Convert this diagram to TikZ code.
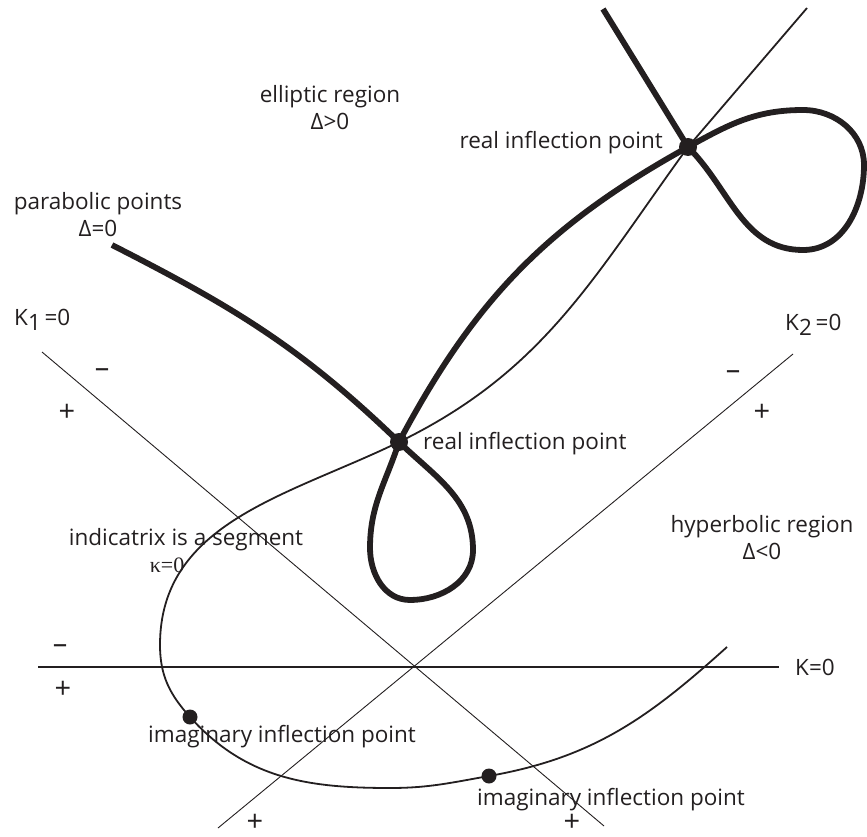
\documentclass[tikz,border=0pt]{standalone}
\usepackage{fontspec}
\setmainfont{Open Sans}
\newfontfamily\serifgreek{Liberation Serif}
\usepackage{tikz}
\usetikzlibrary{arrows.meta,positioning,calc}
\definecolor{ink}{RGB}{35,31,32}

\tikzset{
  lbl/.style={inner sep=0pt, text=ink, font=\fontsize{22.5}{27}\selectfont},
  signlbl/.style={inner sep=0pt, text=ink, font=\fontsize{29}{30}\selectfont},
  thickcurve/.style={ink, line width=5.8pt},
  thincurve/.style={ink, line width=1.8pt},
  axisline/.style={ink, line width=0.9pt},
  ptdot/.style={circle, fill=ink, inner sep=0pt, minimum size=#1}
}

\begin{document}
\begin{tikzpicture}[x=1pt, y=-1pt]
        \useasboundingbox (0,0) rectangle (867,837);
        % lines K=0, K_1=0, K_2=0
        \coordinate (origin) at (413,667);
        \coordinate (kzeroL) at (38,667);
        \coordinate (kzeroR) at (779,667);
        \coordinate (kone) at (42,352);
        \coordinate (koneEnd) at (604,826);
        \coordinate (ktwo) at (793,354);
        \coordinate (ktwoEnd) at (218,828);
        \draw[ink, line width=1.7pt] (kzeroL) -- (kzeroR);
        \draw[axisline] (kone) -- (koneEnd);
        \draw[axisline] (ktwo) -- (ktwoEnd);
        % inflection points
        \coordinate (upperpt) at (688,147);
        \coordinate (lowerpt) at (399,442);
        \coordinate (imagA) at (190,717);
        \coordinate (imagB) at (489,776);
        % thin curve
        \draw[thincurve] (807,8) -- (upperpt) to[out=234, in=26] (lowerpt)
            to[out=206, in=90] (160,645) to[out=-90, in=132] (imagA)
            to[out=-48, in=180] (390,788) to[out=0, in=190] (imagB)
            to[out=10, in=222] (727,647);
        % thick curve with the two loops
        \draw[thickcurve] (112,245) to[out=-27, in=136] (lowerpt)
            to[out=-44, in=90] (473,550) to[out=-90, in=0] (410,600)
            to[out=180, in=-90] (370,548) to[out=90, in=-108] (lowerpt)
            to[out=62, in=209] (upperpt)
            to[out=29, in=180] (803,110) to[out=0, in=90] (864,165)
            to[out=-90, in=0] (803,250) to[out=180, in=-45] (upperpt)
            -- (603,9);
        \foreach \p/\r in {upperpt/18pt, lowerpt/18pt, imagA/15pt, imagB/15pt} {
            \node[ptdot=\r] (dot-\p) at (\p) {};
        }
        % labels
        \node[lbl, align=center] (elliptic) at (330,108) {elliptic region\\Δ>0};
        \node[lbl, align=center] (parabolic) at (98,215) {parabolic points\\Δ=0};
        \node[lbl, anchor=east] (realA) at (663,143) {real inflection point};
        \node[lbl, anchor=west] (realB) at (423,444) {real inflection point};
        \node[lbl, anchor=west] (konelbl) at (14,320) {K\raisebox{-0.45ex}{1}\,=0};
        \node[lbl, anchor=west] (ktwolbl) at (785,325) {K\raisebox{-0.45ex}{2}\,=0};
        \node[lbl, anchor=west] (kzerolbl) at (795,667) {K=0};
        \node[lbl, align=center] (hyperbolic) at (762,538) {hyperbolic region\\Δ<0};
        \node[lbl] (segment) at (186,540) {indicatrix is a segment};
        \node[lbl, font=\fontsize{22}{26}\serifgreek] (kappa) at (167,565) {κ=0};
        \node[lbl] (imagAlbl) at (282,737) {imaginary inflection point};
        \node[lbl] (imagBlbl) at (611,800) {imaginary inflection point};
        % signs
        \foreach \s/\x/\y/\t in {konem/102/373/–, konep/67/413/+, ktwom/733/375/–, ktwop/762/413/+,
                                 kzerom/60/649/–, kzerop/63/690/+, botA/255/823/+, botB/572/823/+} {
            \node[signlbl] (sign-\s) at (\x,\y) {\t};
        }
\end{tikzpicture}
\end{document}
